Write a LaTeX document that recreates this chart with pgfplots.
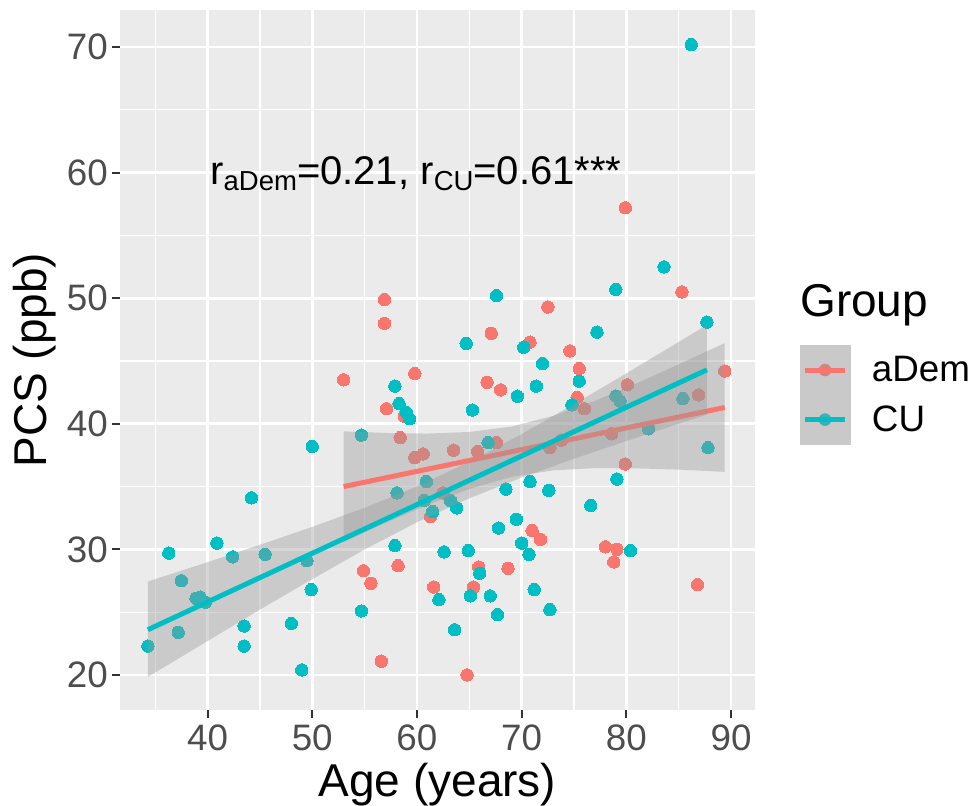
\documentclass[border=0pt]{standalone}
\usepackage{pgfplots}
\pgfplotsset{compat=1.18}
\usepackage{fontspec}
\setmainfont{Liberation Sans}

\definecolor{panelbg}{HTML}{EBEBEB}
\definecolor{aDemC}{HTML}{F8766D}
\definecolor{CUC}{HTML}{00BFC4}
\definecolor{ribbon}{HTML}{999999}
\definecolor{tickc}{HTML}{333333}
\definecolor{tlab}{HTML}{4D4D4D}
\definecolor{keybg}{HTML}{C9C9C9}
\definecolor{aDemD}{HTML}{D2847F}
\definecolor{CUD}{HTML}{3DB0B3}

\begin{document}
\begin{tikzpicture}
\useasboundingbox (-120pt,-96pt) rectangle (850pt,710pt);
\begin{axis}[
    scale only axis, width=635pt, height=700pt,
    xmin=31.64, xmax=92.29, ymin=17.21, ymax=72.95,
    clip mode=individual,
    axis background/.style={fill=panelbg},
    axis line style={draw=none},
    xtick={40,50,...,90}, ytick={20,30,...,70},
    minor xtick={35,45,...,85}, minor ytick={25,35,...,65},
    grid=both,
    major grid style={white, line width=2.6pt},
    minor grid style={white, line width=1.3pt},
    tick pos=left, tick align=outside,
    major tick length=8pt, minor tick length=0pt,
    tick style={tickc, line width=2pt},
    /pgf/number format/assume math mode=true,
    tick label style={font=\fontsize{36.8}{36.8}\selectfont, text=tlab, inner sep=0pt},
    xticklabel style={anchor=north, yshift=-7pt},
    yticklabel style={anchor=east, xshift=-4pt},
    xlabel={Age (years)}, ylabel={PCS (ppb)},
    xlabel style={at={([yshift=-87pt]axis description cs:0.5,0)}, anchor=base, font=\fontsize{46}{46}\selectfont, inner sep=0pt},
    ylabel style={at={([xshift=-73.3pt]axis description cs:0,0.5)}, anchor=base, font=\fontsize{46}{46}\selectfont, inner sep=0pt},
    legend style={at={(1.0709,0.5214)}, anchor=north west, draw=none, fill=none,
        inner sep=0pt, row sep=0pt, column sep=22pt,
        nodes={inner sep=0pt, font=\fontsize{36.8}{36.8}\selectfont}},
    legend cell align=left,
]

% aDem points
\addplot[forget plot, only marks, mark=*, mark size=6.2pt, mark options={fill=aDemC, draw=aDemC, line width=0pt}]
coordinates {
(56.9,49.9)(56.9,48.0)(59.8,44.0)(53.0,43.5)(57.1,41.2)(58.8,40.6)(58.4,38.9)
(59.8,37.3)(60.6,37.6)(61.3,32.6)(54.9,28.3)(55.6,27.3)(58.2,28.7)(61.6,27.0)
(56.6,21.1)(85.3,50.5)(72.5,49.3)(67.1,47.2)(70.8,46.5)(74.6,45.8)(75.5,44.4)
(89.4,44.2)(66.7,43.3)(68.0,42.7)(80.1,43.1)(75.3,42.1)(76.0,41.2)(86.9,42.3)
(63.5,37.9)(65.8,37.8)(67.6,38.5)(72.7,38.1)(73.8,38.7)(78.6,39.2)(79.9,36.8)
(62.5,34.5)(71.0,31.5)(71.8,30.8)(78.0,30.2)(79.1,30.0)(78.8,29.0)(65.9,28.6)
(68.7,28.5)(65.4,27.0)(86.8,27.2)(64.8,20.0)(79.9,57.2)
};

% CU points
\addplot[forget plot, only marks, mark=*, mark size=6.2pt, mark options={fill=CUC, draw=CUC, line width=0pt}]
coordinates {
(86.2,70.2)(83.6,52.5)(57.9,43.0)(58.3,41.6)(59.0,40.9)(59.3,40.4)(54.7,39.1)
(50.0,38.2)(44.2,34.1)(60.9,35.4)(58.1,34.5)(60.7,33.9)(61.5,33.0)(36.3,29.7)
(40.9,30.5)(42.4,29.4)(45.5,29.6)(49.5,29.1)(57.9,30.3)(37.5,27.5)(38.9,26.1)
(39.3,26.2)(39.8,25.8)(49.9,26.8)(37.2,23.4)(34.3,22.3)(43.5,23.9)(43.5,22.3)
(48.0,24.1)(54.7,25.1)(49.0,20.4)(67.6,50.2)(79.0,50.7)(87.7,48.1)(77.2,47.3)
(64.7,46.4)(70.2,46.1)(72.0,44.8)(75.5,43.4)(71.4,43.0)(69.6,42.2)(65.3,41.1)
(74.8,41.5)(79.0,42.2)(79.4,41.8)(85.4,42.0)(82.1,39.6)(66.8,38.5)(87.8,38.1)
(79.1,35.6)(70.8,35.4)(68.5,34.8)(72.6,34.7)(76.6,33.5)(63.2,33.9)(63.8,33.3)
(69.5,32.4)(67.8,31.7)(70.0,30.5)(70.7,29.6)(64.9,29.9)(80.4,29.9)(66.0,28.1)
(65.1,26.3)(67.0,26.3)(71.2,26.8)(62.1,26.0)(67.7,24.8)(72.7,25.2)(63.6,23.6)
(62.6,29.8)
};

% aDem confidence band and fit
\addplot[forget plot, draw=none, fill=ribbon, fill opacity=0.4]
coordinates {
(53,39.40)(57,39.27)(61,39.22)(65,39.35)(69,39.77)(73,40.63)(77,41.83)(81,43.23)(85,44.73)(89.4,46.43)
(89.4,36.17)(85,36.35)(81,36.45)(77,36.47)(73,36.29)(69,35.77)(65,34.81)(61,33.54)(57,32.11)(53,30.60)
} -- cycle;
\addplot[forget plot, aDemC, line width=5pt] coordinates {(53.0,35.0)(89.4,41.3)};

% CU confidence band and fit
\addplot[forget plot, draw=none, fill=ribbon, fill opacity=0.4]
coordinates {
(34.3,27.44)(40,28.98)(45,30.36)(50,31.79)(55,33.31)(60,35.00)(65,36.97)(70,39.18)(75,41.56)(80,44.01)(85,46.51)(87.7,47.87)
(87.7,40.73)(85,40.01)(80,38.63)(75,37.22)(70,35.72)(65,34.07)(60,32.16)(55,29.99)(50,27.63)(45,25.20)(40,22.70)(34.3,19.84)
} -- cycle;
\addplot[forget plot, CUC, line width=5pt] coordinates {(34.3,23.6)(87.7,44.3)};

\node[anchor=base, inner sep=0pt, font=\fontsize{40}{40}\selectfont] at (axis cs:59.9,59.07)
  {r\raisebox{-6.4pt}{\fontsize{27.5}{27.5}\selectfont aDem}=0.21, r\raisebox{-6.4pt}{\fontsize{27.5}{27.5}\selectfont CU}=0.61***};

\node[anchor=base west, inner sep=0pt, font=\fontsize{46}{46}\selectfont] at (rel axis cs:1.0709,0.5619) {Group};

\addlegendimage{legend image code/.code={
  \fill[keybg] (0pt,-24.6pt) rectangle (49.3pt,24.6pt);
  \fill[aDemD] (24.6pt,0pt) circle (6pt);
  \draw[aDemC, line width=5pt] (5pt,0pt) -- (44.3pt,0pt);}}
\addlegendentry{aDem}
\addlegendimage{legend image code/.code={
  \fill[keybg] (0pt,-24.6pt) rectangle (49.3pt,24.6pt);
  \fill[CUD] (24.6pt,0pt) circle (6pt);
  \draw[CUC, line width=5pt] (5pt,0pt) -- (44.3pt,0pt);}}
\addlegendentry{CU}

\end{axis}
\end{tikzpicture}
\end{document}
